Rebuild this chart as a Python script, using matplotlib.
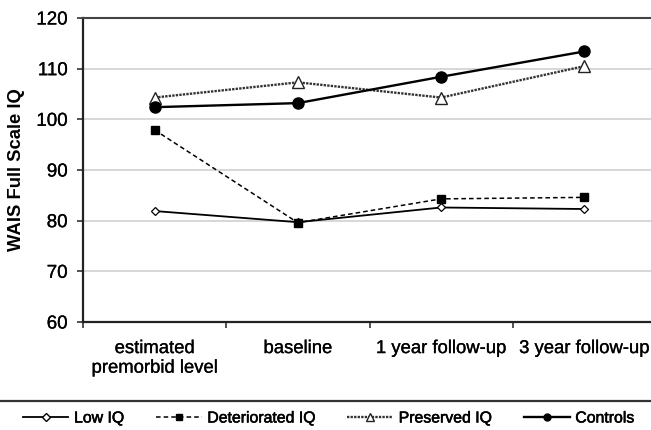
import matplotlib
matplotlib.use("Agg")
import matplotlib.pyplot as plt
from matplotlib.lines import Line2D
import matplotlib.patheffects as pe

plt.rcParams['font.family'] = ['Liberation Sans', 'DejaVu Sans']

# data
categories = ["estimated\npremorbid level", "baseline", "1 year follow-up", "3 year follow-up"]
low_iq = [81.9, 79.7, 82.6, 82.3]
deteriorated_iq = [97.9, 79.6, 84.3, 84.6]
preserved_iq = [104.3, 107.3, 104.3, 110.5]
controls = [102.4, 103.2, 108.4, 113.4]
y_ticks = [60, 70, 80, 90, 100, 110, 120]

fig = plt.figure(figsize=(6.51, 4.30), dpi=100)
ax = fig.add_axes([83 / 651, 1 - 322 / 430, 573 / 651, 304 / 430])

x = range(len(categories))

ax.plot(x, low_iq, color="black", lw=1.3, marker="D", ms=4.5,
        mfc="white", mec="black", mew=0.9, label="Low IQ", zorder=3)
ax.plot(x, deteriorated_iq, color="black", lw=1.1, ls=(0, (3, 2)), marker="s", ms=6,
        mfc="black", mec="black", label="Deteriorated IQ", zorder=3)
ax.plot(x, preserved_iq, color="#333333", lw=1.7, ls=(0, (1, 0.5)), marker="^", ms=8,
        mfc="white", mec="#222222", mew=1.0, label="Preserved IQ", zorder=3)
ax.plot(x, controls, color="black", lw=1.7, marker="o", ms=8,
        mfc="black", mec="black", label="Controls", zorder=4)

ax.set_xlim(-0.5, 3.5)
ax.set_ylim(60, 120)
ax.set_yticks(y_ticks)
ax.yaxis.grid(True, color="#d4d4d4", lw=1.3)
ax.set_axisbelow(True)

# category boundaries carry the ticks, labels sit in between
ax.set_xticks([-0.5, 0.5, 1.5, 2.5])
ax.set_xticklabels([])
ax.set_xticks(list(x), minor=True)
ax.set_xticklabels(categories, minor=True, fontsize=13.3)
ax.tick_params(axis="x", which="major", direction="out", length=4, width=1.2, color="#333333")
ax.tick_params(axis="x", which="minor", length=0, pad=13)
ax.tick_params(axis="y", direction="out", length=4, width=1.2, color="#333333",
               labelsize=13.5, pad=7)

for side in ["left", "bottom"]:
    ax.spines[side].set_color("#222222")
    ax.spines[side].set_linewidth(1.6)
ax.spines["top"].set_color("#444444")
ax.spines["top"].set_linewidth(1.5)
ax.spines["right"].set_visible(False)

ax.set_ylabel("WAIS Full Scale IQ", fontsize=13.3, fontweight="bold", labelpad=8)

# scanned look: text a touch heavier
for t in ax.get_yticklabels() + ax.get_xticklabels(minor=True):
    t.set_path_effects([pe.withStroke(linewidth=0.2, foreground="black")])

# separator above legend
fig.add_artist(Line2D([0, 1], [1 - 401 / 430, 1 - 401 / 430], transform=fig.transFigure,
                      color="#333333", lw=1.6))

handles = [
    Line2D([], [], color="black", lw=1.3, marker="D", ms=4, mfc="white", mec="black"),
    Line2D([], [], color="black", lw=1.1, ls=(0, (3, 2)), marker="s", ms=5, mfc="black"),
    Line2D([], [], color="#333333", lw=1.7, ls=(0, (1, 0.5)), marker="^", ms=6, mfc="white", mec="#222222"),
    Line2D([], [], color="black", lw=1.7, marker="o", ms=5, mfc="black"),
]
leg = fig.legend(handles, ["Low IQ", "Deteriorated IQ", "Preserved IQ", "Controls"],
                 loc="center", bbox_to_anchor=(328.5 / 651, 1 - 418 / 430), ncol=4,
                 frameon=False, fontsize=11.4, handlelength=2.9, handletextpad=0.35,
                 columnspacing=2.0, borderpad=0, borderaxespad=0)
for t in leg.get_texts():
    t.set_path_effects([pe.withStroke(linewidth=0.4, foreground="black")])

fig.savefig("out.png", dpi=100)
